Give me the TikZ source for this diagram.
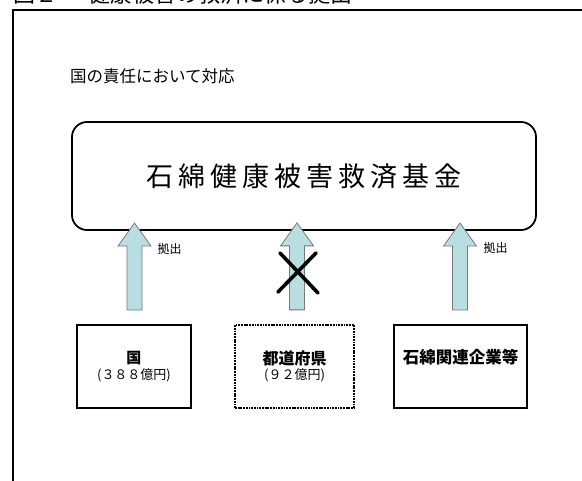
\documentclass[tikz,border=0pt]{standalone}
\usepackage{fontspec}
\setmainfont{Noto Sans CJK JP}
\definecolor{arrowfill}{RGB}{184,222,226}
\definecolor{arrowline}{RGB}{120,120,120}
\tikzset{
  frameline/.style={line width=1.8pt, black},
  boxstyle/.style={draw, line width=1.8pt, inner sep=0pt},
  dottedbox/.style={draw, line width=2.2pt, inner sep=0pt, dash pattern=on 1.8pt off 0.9pt},
  fatarrow/.pic={
    \draw[fill=arrowfill, draw=arrowline, line width=0.8pt, line join=miter]
      (-7.5,0) -- (-7.5,-64) -- (-16.5,-64) -- (0,-87) -- (16.5,-64) -- (7.5,-64) -- (7.5,0) -- cycle;
  },
  crossline/.style={line width=3.6pt, line cap=round, black},
  smalllabel/.style={font=\fontsize{12}{14}\selectfont, inner sep=0pt}
}
\begin{document}
\begin{tikzpicture}[x=1pt,y=-1pt]
\useasboundingbox (0,0) rectangle (582,481);
% outer frame
\draw[frameline] (13,481) -- (13,10) -- (582,10);
% title (cut off at the top, as in the reference)
\node[anchor=base west, inner sep=0pt, font=\fontsize{22}{22}\selectfont] (title) at (13,2.5) {図２\hspace{31pt}健康被害の救済に係る拠出};
% responsibility label
\node[anchor=west, inner sep=0pt, font=\fontsize{16.5}{18}\selectfont] (resp) at (70,76) {国の責任において対応};
% fund
\node[draw, line width=1.8pt, rounded corners=15pt, minimum width=464pt, minimum height=108pt, inner sep=0pt,
  font=\fontsize{27}{30}\selectfont] (fund) at (304,176) {\addfontfeature{LetterSpace=18.5}石綿健康被害救済基金\hspace{-5pt}};
% contributor boxes
\node[boxstyle, minimum width=114pt, minimum height=83pt, align=center] (kuni) at (134,366.5)
  {{\bfseries\fontsize{15}{19}\selectfont 国}\\[2pt]{\fontsize{13}{17}\selectfont (３８８億円)}};
\node[dottedbox, minimum width=119pt, minimum height=83pt, align=center] (todo) at (294.5,366.5)
  {{\bfseries\fontsize{16}{19}\selectfont 都道府県}\\[2pt]{\fontsize{13}{17}\selectfont (９２億円)}};
\node[boxstyle, minimum width=133pt, minimum height=83pt] (kigyo) at (460.5,366.5) {};
\node[inner sep=0pt, font=\bfseries\fontsize{16.5}{19}\selectfont] (kigyotext) at ([yshift=9.5pt]kigyo.center) {石綿関連企業等};
% arrows
\coordinate (a1) at ([xshift=0.5pt,yshift=14pt]kuni.north);
\coordinate (a2) at ([xshift=2.5pt,yshift=14pt]todo.north);
\coordinate (a3) at ([xshift=-0.5pt,yshift=14pt]kigyo.north);
\pic at (a1) {fatarrow};
\pic at (a2) {fatarrow};
\pic at (a3) {fatarrow};
% cross on the middle arrow
\draw[crossline] (280,253) -- (318,293);
\draw[crossline] (316,253) -- (278,292);
% labels
\node[smalllabel] (l1) at (169.5,249) {拠出};
\node[smalllabel] (l3) at (495.5,248) {拠出};
\end{tikzpicture}
\end{document}
